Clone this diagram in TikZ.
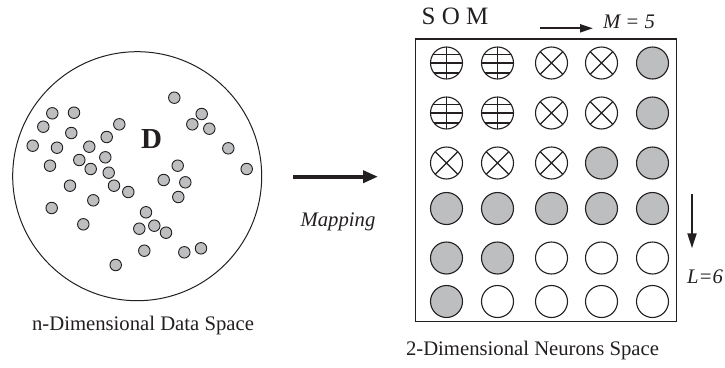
\documentclass[tikz,border=0pt]{standalone}
\usepackage{fontspec}
\setmainfont{Liberation Serif}
\usetikzlibrary{arrows.meta}
\definecolor{inkline}{RGB}{35,31,32}
\definecolor{neurongray}{RGB}{188,190,192}

\begin{document}
\begin{tikzpicture}[x=1pt,y=-1pt,
  txt/.style={font=\fontsize{20.7}{24}\selectfont, text=inkline, inner sep=0, anchor=base},
  datapt/.style={circle, draw=inkline, fill=neurongray, line width=0.9pt, minimum size=11.5pt, inner sep=0},
  neuron/.style={circle, draw=inkline, line width=1.1pt, minimum size=32pt, inner sep=0},
  ng/.style={neuron, fill=neurongray},
  nw/.style={neuron, fill=white},
  nx/.style={neuron, fill=white, path picture={
      \draw[line width=1.1pt, inkline]
        (path picture bounding box.north west) -- (path picture bounding box.south east)
        (path picture bounding box.south west) -- (path picture bounding box.north east);}},
  nh/.style={neuron, fill=white, path picture={
      \draw[line width=1.1pt, inkline, shift={(path picture bounding box.center)}]
        (0,-20) -- (0,20)
        (-20,-8.5) -- (20,-8.5)
        (-20,0) -- (20,0)
        (-20,10) -- (20,10);}},
  guide/.style={draw=inkline, line width=2pt}
]
\useasboundingbox (0,0) rectangle (725,367);

% ---------- data space ----------
\node[circle, draw=inkline, line width=1pt, minimum size=249pt, inner sep=0] (space) at (137.2,176.2) {};
\foreach \i/\px/\py in {
  1/174.3/97.7, 2/52.3/113.3, 3/74/112.7, 4/201.7/114, 5/43.3/126.7,
  6/119.3/124.3, 7/192.3/124.3, 8/209.3/128.7, 9/71.3/133, 10/106.7/137,
  11/32.7/145.7, 12/57/147.7, 13/89.3/146.7, 14/228.3/148.3, 15/79.3/160,
  16/105.3/157.3, 17/50/165.7, 18/177.7/165.7, 19/90.7/169, 20/246.7/169,
  21/108.7/172.7, 22/163.7/180, 23/185.3/182.3, 24/70/185.7, 25/114/185.7,
  26/128.3/192, 27/178.3/197, 28/93.3/200.3, 29/51.7/208, 30/146/212.3,
  31/83.3/224.3, 32/139.3/228.7, 33/154.3/225.7, 34/166/232.7, 35/144.3/250.7,
  36/184.3/252.3, 37/201/248.3, 38/115.7/265}
  \node[datapt] (d\i) at (\px,\py) {};
\node[txt, font=\fontsize{29}{32}\selectfont\bfseries] (dlabel) at (151.7,148.3) {D};
\node[txt] (spacelabel) at (143,330) {n-Dimensional Data Space};

% ---------- mapping arrow ----------
\coordinate (mapfrom) at (293,176.7);
\coordinate (mapto) at (378,176.7);
\draw[draw=inkline, line width=4pt, -{Triangle[length=15pt,width=12pt]}] (mapfrom) -- (mapto);
\node[txt, font=\fontsize{20.7}{24}\selectfont\itshape] (maplabel) at (338,226.7) {Mapping};

% ---------- SOM lattice ----------
\node[draw=inkline, line width=1.2pt, minimum width=261pt, minimum height=282.7pt, inner sep=0] (som) at (546,180.35) {};
\node[txt, font=\fontsize{25}{30}\selectfont] (somlabel) at (455,24) {S O M};

% row 1
\node[nh] (n11) at (446.5,63) {};
\node[nh] (n12) at (497.5,63) {};
\node[nx] (n13) at (551.5,63) {};
\node[nx] (n14) at (601.5,63) {};
\node[ng] (n15) at (652.5,63) {};
% row 2
\node[nh] (n21) at (446.5,113) {};
\node[nh] (n22) at (497.5,113) {};
\node[nx] (n23) at (551.5,113) {};
\node[nx] (n24) at (601.5,113) {};
\node[ng] (n25) at (652.5,113) {};
% row 3
\node[nx] (n31) at (446.5,163) {};
\node[nx] (n32) at (497.5,163) {};
\node[nx] (n33) at (551.5,163) {};
\node[ng] (n34) at (601.5,163) {};
\node[ng] (n35) at (652.5,163) {};
% row 4
\node[ng] (n41) at (446.5,208.5) {};
\node[ng] (n42) at (497.5,208.5) {};
\node[ng] (n43) at (551.5,208.5) {};
\node[ng] (n44) at (601.5,208.5) {};
\node[ng] (n45) at (652.5,208.5) {};
% row 5
\node[ng] (n51) at (446.5,258) {};
\node[ng] (n52) at (497.5,258) {};
\node[nw] (n53) at (551.5,258) {};
\node[nw] (n54) at (601.5,258) {};
\node[nw] (n55) at (652.5,258) {};
% row 6
\node[ng] (n61) at (446.5,301.5) {};
\node[nw] (n62) at (497.5,301.5) {};
\node[nw] (n63) at (551.5,301.5) {};
\node[nw] (n64) at (601.5,301.5) {};
\node[nw] (n65) at (652.5,301.5) {};

% ---------- lattice dimensions ----------
\coordinate (mfrom) at (540,28.3);
\coordinate (mto) at (593,28.3);
\draw[guide, -{Triangle[length=13pt,width=8pt]}] (mfrom) -- (mto);
\node[txt, font=\fontsize{20.7}{24}\selectfont\itshape] (mlabel) at (629,28.3) {M = 5};

\coordinate (lfrom) at (692,194);
\coordinate (lto) at (692,248.3);
\draw[guide, -{Triangle[length=15pt,width=9pt]}] (lfrom) -- (lto);
\node[txt, font=\fontsize{20.7}{24}\selectfont\itshape] (llabel) at (705,283) {L=6};

\node[txt] (neuronlabel) at (532.5,355) {2-Dimensional Neurons Space};
\end{tikzpicture}
\end{document}
